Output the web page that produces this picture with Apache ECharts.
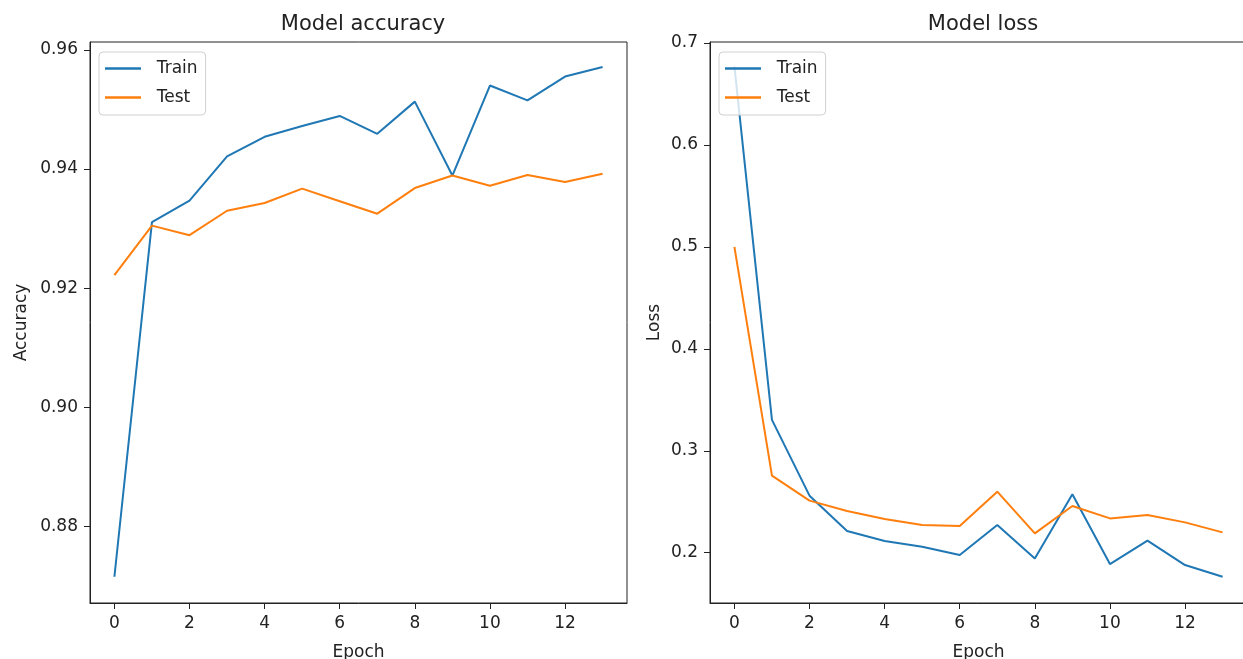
<!DOCTYPE html>
<html>
<head>
<meta charset="utf-8">
<script src="https://cdn.jsdelivr.net/npm/echarts@6/dist/echarts.min.js"></script>
<style>
html,body{margin:0;padding:0;background:#fff;}
#chart{width:1243px;height:659px;}
</style>
</head>
<body>
<div id="chart"></div>
<script>
const epochs = [0,1,2,3,4,5,6,7,8,9,10,11,12,13];
const accTrain = [0.8716,0.9311,0.9347,0.9421,0.9454,0.9472,0.9489,0.9459,0.9513,0.9389,0.9540,0.9515,0.9555,0.9571];
const accTest  = [0.9222,0.9305,0.9289,0.9330,0.9343,0.9367,0.9346,0.9325,0.9368,0.9389,0.9372,0.9390,0.9378,0.9392];
const lossTrain = [0.677,0.3303,0.2560,0.2213,0.2115,0.2059,0.1977,0.2272,0.1944,0.2573,0.1889,0.2118,0.1879,0.1764];
const lossTest  = [0.500,0.2756,0.2511,0.2409,0.2331,0.2272,0.2262,0.2599,0.2190,0.2458,0.2337,0.2370,0.2298,0.2200];
const xTicks = [0,2,4,6,8,10,12];
const accTicks = [0.88,0.90,0.92,0.94,0.96];
const lossTicks = [0.2,0.3,0.4,0.5,0.6,0.7];
const seriesNames = ['Train','Test'];

const BLUE = '#1f77b4', ORANGE = '#ff7f0e';
const FONT = 'DejaVu Sans';
const TXT = '#222';

function pairs(ys){ return epochs.map((e,i)=>[e, ys[i]]); }

function xAx(gi){
  return {
    type:'value', gridIndex:gi, min:-0.65, max:13.65,
    name:'Epoch', nameLocation:'middle', nameGap:41,
    nameTextStyle:{fontFamily:FONT,fontSize:17,color:TXT},
    axisLine:{show:true,onZero:false,lineStyle:{color:'#222',width:1}},
    axisTick:{show:true,length:6,inside:false,customValues:xTicks,lineStyle:{color:'#222'}},
    axisLabel:{customValues:xTicks,margin:12,fontFamily:FONT,fontSize:17,color:TXT},
    splitLine:{show:false}
  };
}
function yAx(gi,min,max,ticks,dec,name,gap){
  return {
    type:'value', gridIndex:gi, min:min, max:max,
    name:name, nameLocation:'middle', nameRotate:90, nameGap:gap,
    nameTextStyle:{fontFamily:FONT,fontSize:17,color:TXT},
    axisLine:{show:true,onZero:false,lineStyle:{color:'#222',width:1}},
    axisTick:{show:true,length:6,inside:false,customValues:ticks,lineStyle:{color:'#222'}},
    axisLabel:{customValues:ticks,margin:12,fontFamily:FONT,fontSize:17,color:TXT,
      formatter:v=>v.toFixed(dec)},
    splitLine:{show:false}
  };
}
function leg(left){
  return {
    data:seriesNames, orient:'vertical', left:left, top:52,
    icon:'rect', itemWidth:36, itemHeight:2.5, itemGap:12,
    backgroundColor:'rgba(255,255,255,0.8)', borderColor:'#d0d0d0', borderWidth:1, borderRadius:4,
    padding:[8,8,9,6],
    formatter:n=>'  '+n,
    textStyle:{fontFamily:FONT,fontSize:17,color:TXT}
  };
}
function line(name,color,xi,ys){
  return {type:'line',name:name,xAxisIndex:xi,yAxisIndex:xi,data:pairs(ys),
    symbol:'none',lineStyle:{color:color,width:2},itemStyle:{color:color}};
}

const option = {
  animation:false,
  backgroundColor:'#fff',
  title:[
    {text:'Model accuracy',left:358,top:9,textAlign:'center',textStyle:{fontFamily:FONT,fontSize:21,fontWeight:'normal',color:TXT}},
    {text:'Model loss',left:978,top:9,textAlign:'center',textStyle:{fontFamily:FONT,fontSize:21,fontWeight:'normal',color:TXT}}
  ],
  legend:[leg(99),leg(719)],
  grid:[
    {left:90,top:42,width:537,height:561,show:true,borderColor:'#222',borderWidth:1,backgroundColor:'transparent',outerBoundsMode:'none',containLabel:false},
    {left:710,top:42,width:537,height:561,show:true,borderColor:'#222',borderWidth:1,backgroundColor:'transparent',outerBoundsMode:'none',containLabel:false}
  ],
  xAxis:[xAx(0),xAx(1)],
  yAxis:[
    yAx(0,0.8672,0.9613,accTicks,2,'Accuracy',60),
    yAx(1,0.1507,0.701,lossTicks,1,'Loss',47)
  ],
  series:[
    line('Train',BLUE,0,accTrain),
    line('Test',ORANGE,0,accTest),
    line('Train',BLUE,1,lossTrain),
    line('Test',ORANGE,1,lossTest)
  ]
};
const chart = echarts.init(document.getElementById('chart'));
chart.setOption(option);
</script>
</body>
</html>
